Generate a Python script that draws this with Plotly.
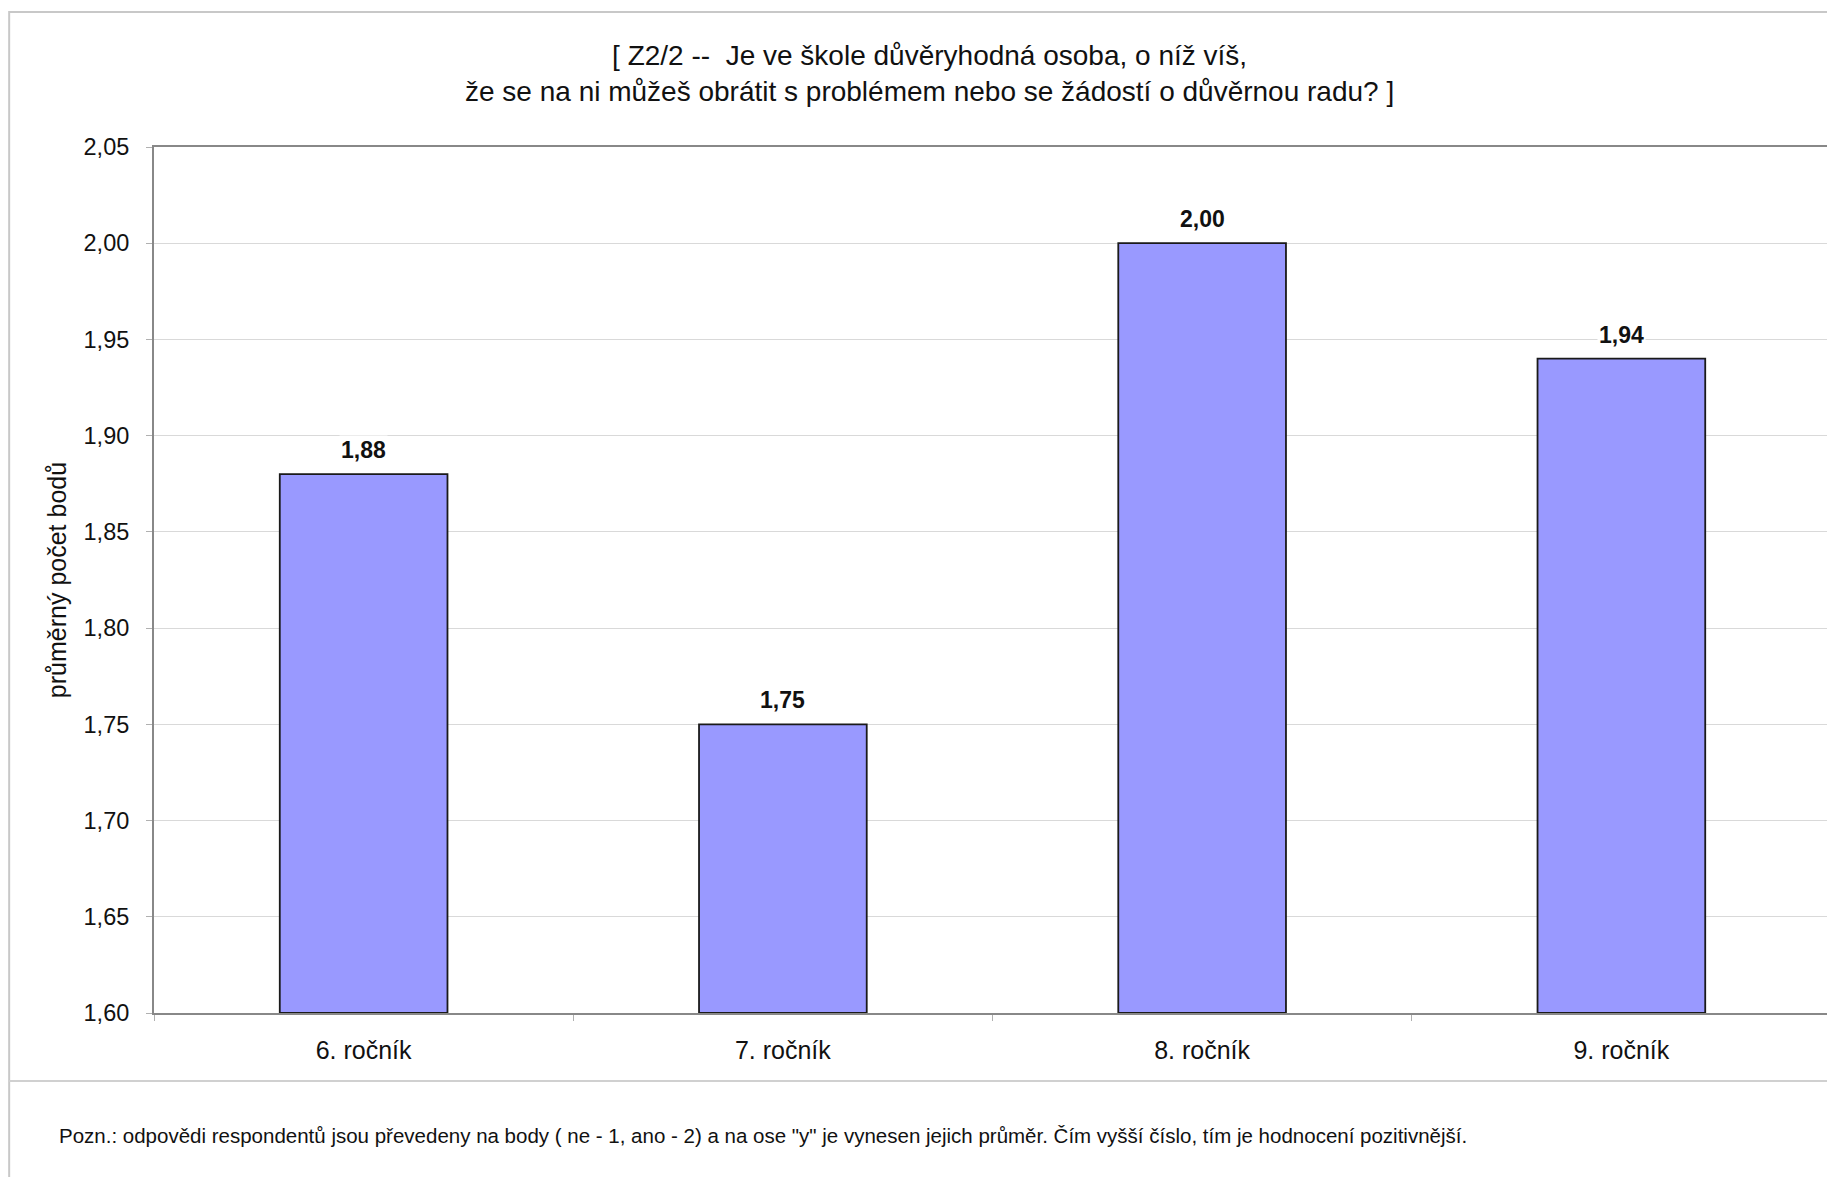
import plotly.graph_objects as go

categories = ["6. ročník", "7. ročník", "8. ročník", "9. ročník"]
values = [1.88, 1.75, 2.00, 1.94]
y_ticks = [1.60, 1.65, 1.70, 1.75, 1.80, 1.85, 1.90, 1.95, 2.00, 2.05]
y_min, y_max = 1.60, 2.05

title_text = "[ Z2/2 --  Je ve škole důvěryhodná osoba, o níž víš,<br>že se na ni můžeš obrátit s problémem nebo se žádostí o důvěrnou radu? ]"
y_title = "průměrný počet bodů"
note = ('Pozn.: odpovědi respondentů jsou převedeny na body ( ne - 1, ano - 2) a na ose "y" je vynesen jejich průměr. '
        'Čím vyšší číslo, tím je hodnocení pozitivnější.')

PAGE_W, PAGE_H = 1835, 1177
OFF = 8  # page body margin
W, H = PAGE_W - OFF, PAGE_H - OFF
# plot area in page pixels
PL, PR, PT, PB = 154, 1833, 147, 1013
L, R, T, B = PL - OFF, PAGE_W - PR, PT - OFF, PAGE_H - PB
plot_w = W - L - R
plot_h = H - T - B


def px(x):
    return (x - OFF - L) / plot_w


def py(y):
    return (PB - y) / plot_h


FONT = "Liberation Sans, Arial, sans-serif"

fig = go.Figure()
fig.add_trace(go.Bar(
    x=categories, y=[v - y_min for v in values], base=y_min,
    marker=dict(color="#9999FF", line=dict(color="#1a1a1a", width=1.8)),
    width=0.4,
))

for c, v in zip(categories, values):
    fig.add_annotation(
        x=c, y=v, text=f"{v:.2f}".replace(".", ","),
        showarrow=False, yanchor="bottom", yshift=9,
        font=dict(family=FONT, size=23, color="#111111", weight="bold"),
        bgcolor="white", borderpad=1,
    )

fig.add_annotation(
    xref="paper", yref="paper", x=px(57), xanchor="left",
    y=py(1135), yanchor="middle",
    text=note, showarrow=False,
    font=dict(family=FONT, size=20.5, color="#111111"),
)

fig.add_annotation(
    xref="paper", yref="paper", x=px(930), xanchor="center",
    y=py(74), yanchor="middle",
    text=title_text, showarrow=False,
    font=dict(family=FONT, size=28, color="#111111"),
)

fig.update_layout(
    width=W, height=H,
    margin=dict(l=L, r=R, t=T, b=B),
    paper_bgcolor="white", plot_bgcolor="white",
    separators=", ",
    showlegend=False,
    font=dict(family=FONT, color="#111111"),
    xaxis=dict(
        showline=True, linecolor="#888888", linewidth=2, mirror=True,
        ticks="outside", tickson="boundaries", ticklen=6, tickcolor="#b0b0b0",
        tickfont=dict(size=25, family=FONT, color="#111111"),
        ticklabelstandoff=14,
        showgrid=False,
    ),
    yaxis=dict(
        range=[y_min, y_max], tickvals=y_ticks, tickformat=".2f",
        showline=True, linecolor="#888888", linewidth=2, mirror=True,
        ticks="outside", ticklen=6, tickcolor="#b0b0b0",
        tickfont=dict(size=23.5, family=FONT, color="#111111"),
        ticklabelstandoff=12,
        showgrid=True, gridcolor="#d9d9d9", gridwidth=1,
        zeroline=False,
        title=dict(text=y_title, font=dict(size=25, family=FONT, color="#111111"), standoff=10),
    ),
    shapes=[
        dict(type="rect", xref="paper", yref="paper",
             x0=px(9), x1=px(PAGE_W + 20),
             y0=py(PAGE_H + 20), y1=py(12),
             line=dict(color="#c8c8c8", width=2), layer="below"),
        dict(type="line", xref="paper", yref="paper",
             x0=px(9), x1=px(PAGE_W + 20),
             y0=py(1081), y1=py(1081),
             line=dict(color="#d0d0d0", width=2), layer="below"),
    ],
)

fig.write_html("out.html")
